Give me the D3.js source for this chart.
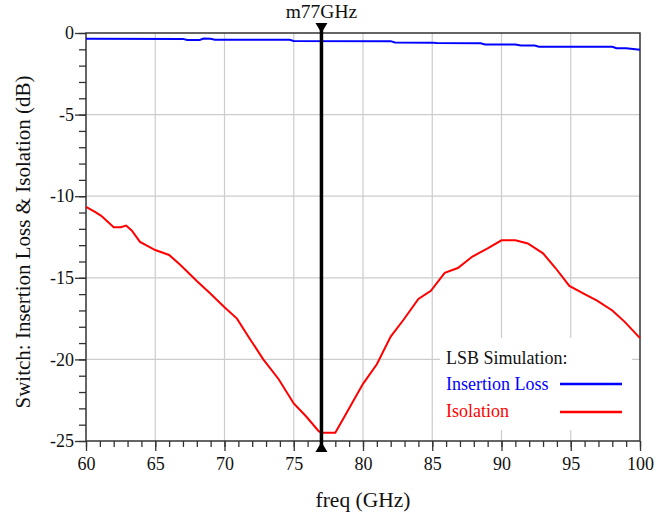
<!DOCTYPE html>
<html>
<head>
<meta charset="utf-8">
<script src="https://cdn.jsdelivr.net/npm/d3@7"></script>
<style>
  body { margin: 0; background: #fff; }
</style>
</head>
<body>
<svg id="chart" width="669" height="517"></svg>
<script>
// freq (GHz) / dB values
const ilFreq = [60, 67, 67.3, 68.2, 68.5, 69, 69.3, 74.7, 75, 82, 82.3, 85, 85.3, 88.5, 88.8, 91, 91.4, 92.4, 92.7, 98, 98.3, 99, 100];
const ilDb = [-0.35, -0.36, -0.43, -0.43, -0.34, -0.35, -0.41, -0.42, -0.49, -0.5, -0.58, -0.59, -0.62, -0.63, -0.7, -0.71, -0.76, -0.77, -0.84, -0.85, -0.93, -0.94, -1.03];

const isoFreq = [60, 60.65, 61.1, 62, 62.5, 62.9, 63.3, 63.9, 65, 66, 66.8, 68, 68.9, 70, 70.9, 71.8, 72.8, 73.9, 75, 75.9, 76.8, 77, 78, 78.8, 80, 81, 82, 82.9, 84, 84.9, 85.9, 86.85, 87.9, 89, 90, 91, 91.9, 93, 93.9, 94.9, 96, 96.9, 98, 98.9, 100];
const isoDb = [-10.65, -10.96, -11.2, -11.9, -11.9, -11.8, -12.1, -12.8, -13.3, -13.6, -14.2, -15.2, -15.9, -16.8, -17.5, -18.7, -20.0, -21.2, -22.7, -23.5, -24.4, -24.5, -24.5, -23.3, -21.5, -20.3, -18.6, -17.6, -16.3, -15.8, -14.7, -14.4, -13.7, -13.2, -12.7, -12.7, -12.9, -13.5, -14.4, -15.5, -16.0, -16.4, -17.0, -17.7, -18.7];

const xTicks = [60, 65, 70, 75, 80, 85, 90, 95, 100];
const yTicks = [0, -5, -10, -15, -20, -25];
const markerFreq = 77;

const FONT = '"Liberation Serif", "Times New Roman", "DejaVu Serif", serif';

const svg = d3.select('#chart');
const margin = { top: 33, right: 29, bottom: 76, left: 86 };
const width = 669 - margin.left - margin.right;
const height = 517 - margin.top - margin.bottom;

const x = d3.scaleLinear().domain([60, 100]).range([margin.left, margin.left + width]);
const y = d3.scaleLinear().domain([-25, 0]).range([margin.top + height, margin.top]);

// grid
svg.append('g')
    .selectAll('line')
    .data(xTicks.slice(1, -1))
    .enter().append('line')
    .attr('x1', d => x(d)).attr('x2', d => x(d))
    .attr('y1', y(0)).attr('y2', y(-25))
    .attr('stroke', '#cccccc').attr('stroke-width', 1.2);
svg.append('g')
    .selectAll('line')
    .data(yTicks.slice(1, -1))
    .enter().append('line')
    .attr('x1', x(60)).attr('x2', x(100))
    .attr('y1', d => y(d)).attr('y2', d => y(d))
    .attr('stroke', '#cccccc').attr('stroke-width', 1.2);

// legend background hides grid
svg.append('rect')
    .attr('x', 440).attr('y', 338).attr('width', 192).attr('height', 92)
    .attr('fill', '#fff');

// axes (plain hyphen for negatives, like the original)
const fmt = d => String(d);
const xAxis = d3.axisBottom(x).tickValues(xTicks).tickSize(10).tickPadding(6).tickFormat(fmt);
const xMinor = d3.axisBottom(x).tickValues(d3.range(60, 101, 1)).tickSize(6).tickFormat('');
const yAxis = d3.axisLeft(y).tickValues(yTicks).tickSize(11).tickPadding(1).tickFormat(fmt);
const yMinor = d3.axisLeft(y).tickValues(d3.range(-25, 1, 1)).tickSize(7).tickFormat('');

svg.append('g').attr('transform', `translate(0,${y(-25)})`).call(xMinor);
svg.append('g').attr('transform', `translate(0,${y(-25)})`).call(xAxis);
svg.append('g').attr('transform', `translate(${x(60)},0)`).call(yMinor);
svg.append('g').attr('transform', `translate(${x(60)},0)`).call(yAxis);

svg.selectAll('.domain').remove();
svg.selectAll('g').attr('font-family', FONT);
svg.selectAll('.tick line').attr('stroke', '#333').attr('stroke-width', 1.3);
svg.selectAll('.tick text').attr('font-size', 18).attr('fill', '#111');

// frame
svg.append('rect')
    .attr('x', x(60)).attr('y', y(0))
    .attr('width', x(100) - x(60)).attr('height', y(-25) - y(0))
    .attr('fill', 'none').attr('stroke', '#333').attr('stroke-width', 1.5);

// curves
const line = d3.line().x(d => x(d[0])).y(d => y(d[1]));
svg.append('path')
    .datum(ilFreq.map((f, i) => [f, ilDb[i]]))
    .attr('d', line).attr('fill', 'none').attr('stroke', '#0000ff').attr('stroke-width', 2);
svg.append('path')
    .datum(isoFreq.map((f, i) => [f, isoDb[i]]))
    .attr('d', line).attr('fill', 'none').attr('stroke', '#ff0000').attr('stroke-width', 2);

// marker
const mx = x(markerFreq);
svg.append('line')
    .attr('x1', mx).attr('x2', mx)
    .attr('y1', y(0) - 6).attr('y2', y(-25) + 6)
    .attr('stroke', '#000').attr('stroke-width', 3.5);
svg.append('path')
    .attr('d', `M${mx - 6},${y(0) - 10} L${mx + 6},${y(0) - 10} L${mx},${y(0)} Z`)
    .attr('fill', '#000');
svg.append('path')
    .attr('d', `M${mx - 6},${y(-25) + 11} L${mx + 6},${y(-25) + 11} L${mx},${y(-25) + 1} Z`)
    .attr('fill', '#000');

const addText = (tx, ty, str, size, color, anchor) => svg.append('text')
    .attr('x', tx).attr('y', ty)
    .attr('text-anchor', anchor || 'start')
    .attr('font-family', FONT)
    .attr('font-size', size).attr('fill', color)
    .text(str);

addText(mx, 18, 'm77GHz', 19.5, '#111', 'middle');

// titles
addText(x(80), 507, 'freq (GHz)', 21.5, '#111', 'middle');
addText(0, 0, 'Switch: Insertion Loss & Isolation (dB)', 21, '#111', 'middle')
    .attr('transform', `translate(30,${(y(0) + y(-25)) / 2 + 5}) rotate(-90)`);

// legend
addText(446, 364, 'LSB Simulation:', 18, '#111');
addText(446, 390, 'Insertion Loss', 18, '#0000ff');
addText(446, 417, 'Isolation', 18, '#ff0000');
svg.append('line').attr('x1', 560).attr('x2', 622).attr('y1', 384).attr('y2', 384)
    .attr('stroke', '#0000ff').attr('stroke-width', 2.5);
svg.append('line').attr('x1', 560).attr('x2', 622).attr('y1', 412).attr('y2', 412)
    .attr('stroke', '#ff0000').attr('stroke-width', 2.5);
</script>
</body>
</html>
